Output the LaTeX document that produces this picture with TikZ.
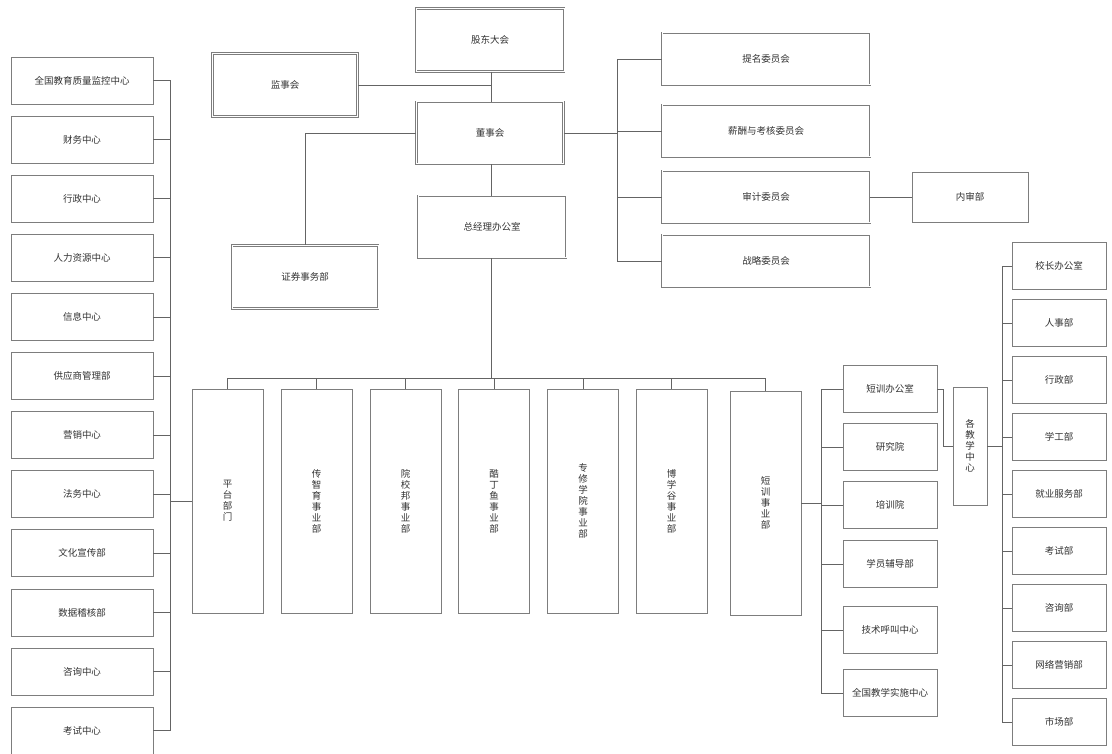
\documentclass[tikz,border=0pt]{standalone}
\usepackage{fontspec}
\setmainfont{Noto Sans CJK SC}
\definecolor{boxgray}{RGB}{125,125,125}
\definecolor{linkgray}{RGB}{100,100,100}
\definecolor{textgray}{RGB}{50,50,50}

\begin{document}
\begin{tikzpicture}[
    x=1pt, y=-1pt,
    font=\fontsize{9.5}{11}\selectfont,
    text=textgray,
    box/.style={
        rectangle,
        draw=boxgray,
        line width=0.8pt,
        align=center,
        inner sep=2pt
    },
    dbox/.style={
        box,
        double=white,
        double distance=1pt,
        line width=0.6pt
    },
    unitbox/.style={box, minimum width=71pt, minimum height=224pt},
    ctrbox/.style={box, minimum width=142pt, minimum height=47pt},
    subbox/.style={box, minimum width=94pt, minimum height=47pt},
    cmtbox/.style={dbox, minimum width=208pt, minimum height=52pt},
    link/.style={draw=linkgray, line width=0.7pt}
]
\useasboundingbox (0,0) rectangle (1112,754);

% Governance
\node[dbox, minimum width=148pt, minimum height=63pt] (shareholders) at (490,40) {股东大会};
\node[dbox, minimum width=145pt, minimum height=63pt] (supervisors) at (285,85) {监事会};
\node[dbox, minimum width=147pt, minimum height=62pt] (board) at (490,133) {董事会};
\node[dbox, minimum width=146pt, minimum height=63pt] (securities) at (305,277) {证券事务部};
\node[dbox, minimum width=148pt, minimum height=62pt] (gmoffice) at (492,227) {总经理办公室};

% Committees
\node[cmtbox] (nomination) at (766,59) {提名委员会};
\node[cmtbox] (salary) at (766,131) {薪酬与考核委员会};
\node[cmtbox] (audit) at (766,197) {审计委员会};
\node[cmtbox] (strategy) at (766,261) {战略委员会};
\node[box, minimum width=116pt, minimum height=50pt] (internal) at (970,197) {内审部};

% Platform centres
\node[ctrbox] (ctr1) at (82,80.5) {全国教育质量监控中心};
\node[ctrbox] (ctr2) at (82,139.6) {财务中心};
\node[ctrbox] (ctr3) at (82,198.7) {行政中心};
\node[ctrbox] (ctr4) at (82,257.8) {人力资源中心};
\node[ctrbox] (ctr5) at (82,316.9) {信息中心};
\node[ctrbox] (ctr6) at (82,376) {供应商管理部};
\node[ctrbox] (ctr7) at (82,435.1) {营销中心};
\node[ctrbox] (ctr8) at (82,494.2) {法务中心};
\node[ctrbox] (ctr9) at (82,553.3) {文化宣传部};
\node[ctrbox] (ctr10) at (82,612.4) {数据稽核部};
\node[ctrbox] (ctr11) at (82,671.5) {咨询中心};
\node[ctrbox] (ctr12) at (82,730.5) {考试中心};

% Business units
\node[unitbox] (bu1) at (227.5,501) {平\\台\\部\\门};
\node[unitbox] (bu2) at (316.5,501) {传\\智\\育\\事\\业\\部};
\node[unitbox] (bu3) at (405.5,501) {院\\校\\邦\\事\\业\\部};
\node[unitbox] (bu4) at (494,501) {酷\\丁\\鱼\\事\\业\\部};
\node[unitbox] (bu5) at (583,501) {专\\修\\学\\院\\事\\业\\部};
\node[unitbox] (bu6) at (671.5,501) {博\\学\\谷\\事\\业\\部};
\node[unitbox] (bu7) at (765.5,503) {短\\训\\事\\业\\部};

% Short-term training
\node[subbox] (tr1) at (890,389) {短训办公室};
\node[subbox] (tr2) at (890,447) {研究院};
\node[subbox] (tr3) at (890,505) {培训院};
\node[subbox] (tr4) at (890,564) {学员辅导部};
\node[subbox] (tr5) at (890,630) {技术呼叫中心};
\node[subbox] (tr6) at (890,693) {全国教学实施中心};
\node[box, minimum width=34pt, minimum height=118pt] (teach) at (970,446) {各\\教\\学\\中\\心};

% Campus departments
\node[subbox] (cp1) at (1059,266) {校长办公室};
\node[subbox] (cp2) at (1059,323) {人事部};
\node[subbox] (cp3) at (1059,380) {行政部};
\node[subbox] (cp4) at (1059,437) {学工部};
\node[subbox] (cp5) at (1059,494) {就业服务部};
\node[subbox] (cp6) at (1059,551) {考试部};
\node[subbox] (cp7) at (1059,608) {咨询部};
\node[subbox] (cp8) at (1059,665) {网络营销部};
\node[subbox] (cp9) at (1059,722) {市场部};

% Bus positions
\coordinate (gbus) at (491,0);
\coordinate (cbus) at (617,0);
\coordinate (bbus) at (0,378);
\coordinate (lbus) at (170,0);
\coordinate (tbus) at (821,0);
\coordinate (tjog) at (943,0);
\coordinate (cpbus) at (1002,0);

% Governance links
\draw[link] (shareholders.south -| gbus) -- (board.north -| gbus);
\draw[link] (supervisors.east) -- (supervisors.east -| gbus);
\draw[link] (board.west) -| (securities.north);
\draw[link] (board.south -| gbus) -- (gmoffice.north -| gbus);
\draw[link] (board.east) -- (board.east -| cbus);
\draw[link] (nomination.west) -- (nomination.west -| cbus) -- (strategy.west -| cbus) -- (strategy.west);
\draw[link] (salary.west) -- (salary.west -| cbus);
\draw[link] (audit.west) -- (audit.west -| cbus);
\draw[link] (audit.east) -- (internal.west);

% Business unit bus
\draw[link] (gmoffice.south -| gbus) -- (bbus -| gbus);
\draw[link] (bu1.north) -- (bu1.north |- bbus) -- (bu7.north |- bbus) -- (bu7.north);
\foreach \i in {2,...,6}
    \draw[link] (bu\i.north) -- (bu\i.north |- bbus);

% Platform centres
\draw[link] (ctr1.east) -- (ctr1.east -| lbus) -- (ctr12.east -| lbus) -- (ctr12.east);
\foreach \i in {2,...,11}
    \draw[link] (ctr\i.east) -- (ctr\i.east -| lbus);
\draw[link] (bu1.west) -- (bu1.west -| lbus);

% Short-term training
\draw[link] (tr1.west) -- (tr1.west -| tbus) -- (tr6.west -| tbus) -- (tr6.west);
\foreach \i in {2,...,5}
    \draw[link] (tr\i.west) -- (tr\i.west -| tbus);
\draw[link] (bu7.east) -- (bu7.east -| tbus);
\draw[link] (tr1.east) -- (tr1.east -| tjog) |- (teach.west);

% Campus departments
\draw[link] (cp1.west) -- (cp1.west -| cpbus) -- (cp9.west -| cpbus) -- (cp9.west);
\foreach \i in {2,...,8}
    \draw[link] (cp\i.west) -- (cp\i.west -| cpbus);
\draw[link] (teach.east) -- (teach.east -| cpbus);

\end{tikzpicture}
\end{document}
